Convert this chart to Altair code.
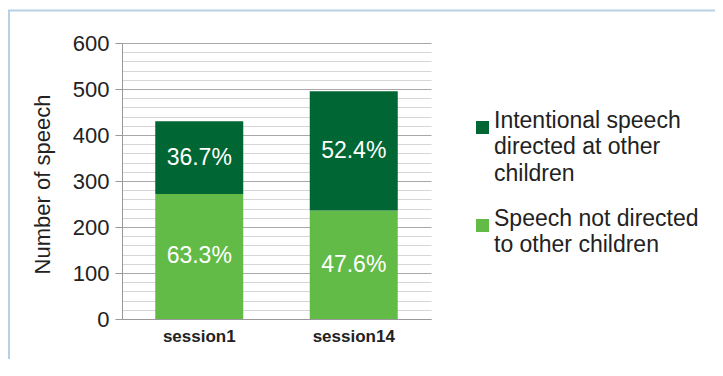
import altair as alt
import pandas as pd

FONT = "Liberation Sans"

sessions = ["session1", "session14"]
categories = ["Intentional speech|directed at other|children", "Speech not directed|to other children"]
intentional = [158, 259]
not_directed = [272, 236]
pct_intentional = ["36.7%", "52.4%"]
pct_not_directed = ["63.3%", "47.6%"]
colors = ["#006633", "#62BB46"]
y_ticks = list(range(0, 601, 20))

rows = []
for i, s in enumerate(sessions):
    rows.append({"session": s, "category": categories[1], "value": not_directed[i],
                 "pct": pct_not_directed[i], "stackorder": 0})
    rows.append({"session": s, "category": categories[0], "value": intentional[i],
                 "pct": pct_intentional[i], "stackorder": 1})
df = pd.DataFrame(rows)

major = "datum.value % 100 === 0"

x_axis = alt.Axis(labelAngle=0, ticks=False, domainColor="#999999",
                  labelFont=FONT, labelFontSize=17, labelFontWeight="bold",
                  labelColor="#222222", labelPadding=9)

y_scale = alt.Scale(domain=[0, 600], nice=False)

y_axis = alt.Axis(
    values=y_ticks,
    title="Number of speech",
    labelExpr=f"{major} ? datum.label : ''",
    labelOverlap=False,
    labelFlush=False,
    labelFont=FONT, labelFontSize=22, labelColor="#222222", labelPadding=6,
    tickSize=7, tickColor="#999999",
    tickOpacity={"condition": {"test": major, "value": 1}, "value": 0},
    gridColor={"condition": {"test": major, "value": "#a8a8a8"}, "value": "#d6d6d6"},
    domainColor="#999999",
    titleFont=FONT, titleFontSize=22, titleFontWeight="normal", titleColor="#222222",
    titleX=-80, titleY=141, titleAngle=270, titleAlign="center", titleBaseline="middle",
)

base = alt.Chart(df)

bars = base.mark_bar(size=88).encode(
    x=alt.X("session:N", sort=sessions, title=None, axis=x_axis),
    y=alt.Y("value:Q", stack="zero", scale=y_scale, title="Number of speech", axis=y_axis),
    color=alt.Color("category:N",
                    scale=alt.Scale(domain=categories, range=colors),
                    legend=alt.Legend(title=None, orient="none", legendX=349, legendY=73,
                                      symbolType="square", symbolSize=169,
                                      symbolStrokeWidth=0,
                                      labelFont=FONT, labelFontSize=23, labelColor="#222222",
                                      labelExpr="split(datum.label, '|')",
                                      labelLimit=400, labelOffset=0, rowPadding=21,
                                      labelBaseline="alphabetic", padding=0)),
    order=alt.Order("stackorder:Q"),
)

labels = base.transform_stack(
    stack="value", groupby=["session"], as_=["y0", "y1"],
    sort=[alt.SortField("stackorder")]
).transform_calculate(
    mid="(datum.y0 + datum.y1) / 2"
).mark_text(color="white", font=FONT, fontSize=23, baseline="middle").encode(
    x=alt.X("session:N", sort=sessions, title=None, axis=x_axis),
    y=alt.Y("mid:Q", scale=y_scale, title="Number of speech", axis=y_axis),
    text="pct:N",
)

frame = alt.Chart(pd.DataFrame({"f": [0]})).mark_rect(
    filled=False, stroke="#b7d1e6", strokeWidth=2
).encode(
    x=alt.value(-113), x2=alt.value(1000), y=alt.value(-32.5), y2=alt.value(1000)
)

chart = alt.layer(frame, bars, labels).properties(
    width=309, height=276,
    autosize=alt.AutoSizeParams(type="none"),
    padding={"left": 114, "top": 35, "right": 284, "bottom": 40},
    background="white",
).configure(
    view={"strokeWidth": 0},
    style={"guide-label": {"lineHeight": 26.5}},
)

chart.save("out.html", embed_options={"renderer": "svg", "actions": False})
